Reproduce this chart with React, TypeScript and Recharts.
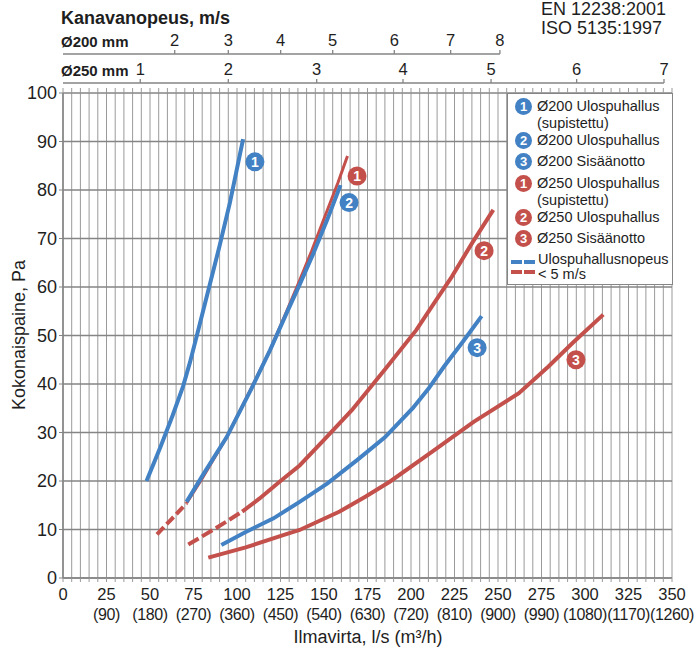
import React from 'react';
import { LineChart, Line, XAxis, YAxis, CartesianGrid, ReferenceDot } from 'recharts';

const BLUE = '#4281c3';
const RED = '#c4504c';
const GRID = '#9a9a9a';
const AXIS = '#858585';
const TEXT = '#1e1e1e';
const FONT = '"Liberation Sans", Arial, sans-serif';

// ilmavirta l/s -> kokonaispaine Pa, luettu kuvasta
const blue1: [number, number][] = [[48, 20], [56, 27], [63, 33.5], [69, 39.5], [73, 44.5], [78, 51.5], [84, 60], [90, 68.5], [96, 77.5], [103.5, 90.5]];
const blue2: [number, number][] = [[71, 15.7], [80, 21], [94, 29], [108.4, 39.1], [119, 47], [128.5, 54.6], [136, 60.5], [144, 67], [152, 74], [159.5, 81]];
const blue3: [number, number][] = [[91, 6.8], [105, 9.5], [121, 12.3], [136, 15.7], [152, 19.5], [169, 24.3], [185, 29], [201, 35], [210, 39], [219, 43.6], [230, 48.8], [240.6, 54]];
const red1Dash: [number, number][] = [[54, 9], [62, 12], [71, 15.4]];
const red1: [number, number][] = [[71, 15.4], [80, 20.5], [94, 29], [108, 39], [119, 47], [128, 54.5], [135, 60.5], [143, 67.5], [151, 75], [158, 81.5], [163.5, 87]];
const red2Dash: [number, number][] = [[72, 6.9], [88, 10.3], [103, 13.7]];
const red2: [number, number][] = [[103, 13.7], [113, 16.4], [125, 20], [136, 23.2], [150, 28.5], [166, 34.6], [185, 43], [203, 51.1], [213, 56.5], [223.4, 62.1], [235, 69], [247.3, 75.9]];
const red3: [number, number][] = [[83.5, 4.2], [105, 6.3], [127, 8.9], [136, 9.9], [159, 13.7], [174, 16.8], [188, 19.9], [212, 26], [236, 32.2], [262, 38.1], [279, 43.6], [293, 48.5], [310.5, 54.3]];

// numeromerkit käyrien päissä
const badges = [
  { n: 1, color: BLUE, x: 110.3, y: 85.8 },
  { n: 1, color: RED, x: 169, y: 82.9 },
  { n: 2, color: BLUE, x: 164.4, y: 77.4 },
  { n: 2, color: RED, x: 242, y: 67.5 },
  { n: 3, color: BLUE, x: 238, y: 47.5 },
  { n: 3, color: RED, x: 294.8, y: 45 },
];

const flowTicks = [0, 25, 50, 75, 100, 125, 150, 175, 200, 225, 250, 275, 300, 325, 350];
const m3hLabels = ['', '(90)', '(180)', '(270)', '(360)', '(450)', '(540)', '(630)', '(720)', '(810)', '(900)', '(990)', '(1080)', '(1170)', '(1260)'];
const gridTicks = Array.from({ length: 71 }, (_, i) => i * 5);
const paTicks = [0, 10, 20, 30, 40, 50, 60, 70, 80, 90, 100];

// kanavanopeus-asteikot (m/s) ja niitä vastaava ilmavirta
const d200Speeds = [2, 3, 4, 5, 6, 7, 8];
const d200Flows = [64.2, 95, 125.1, 155, 190.4, 222.8, 251.1];
const d250Speeds = [1, 2, 3, 4, 5, 6, 7];
const d250Flows = [44.4, 95, 145.8, 195.4, 246, 295.2, 345.4];

const legendItems = [
  { n: 1, color: BLUE, lines: ['Ø200 Ulospuhallus', '(supistettu)'] },
  { n: 2, color: BLUE, lines: ['Ø200 Ulospuhallus'] },
  { n: 3, color: BLUE, lines: ['Ø200 Sisäänotto'] },
  { n: 1, color: RED, lines: ['Ø250 Ulospuhallus', '(supistettu)'] },
  { n: 2, color: RED, lines: ['Ø250 Ulospuhallus'] },
  { n: 3, color: RED, lines: ['Ø250 Sisäänotto'] },
];
const legendTops = [4, 38, 59, 81, 115, 136];

const W = 698;
const H = 655;
const MARGIN = { top: 25, right: 26, bottom: 0, left: 0 };
const Y_W = 63;
const PX_PER_FLOW = (W - MARGIN.right - MARGIN.left - Y_W) / 350;
const TOP_TICK = 4;
const TOP_MARGIN = 2;

const pts = (a: [number, number][]) => a.map(([x, y]) => ({ x, y }));

const FlowTick = (props: any) => {
  const { x, y, payload } = props;
  const i = flowTicks.indexOf(payload.value);
  if (i < 0) return <g />;
  return (
    <g fontFamily={FONT} fill={TEXT}>
      <text x={x} y={y + 16} textAnchor="middle" fontSize={16.5}>{payload.value}</text>
      {m3hLabels[i] && (
        <text x={x} y={y + 35.5} textAnchor="middle" fontSize={16} letterSpacing={-0.4}>{m3hLabels[i]}</text>
      )}
    </g>
  );
};

const speedTick = (speeds: number[], flows: number[], lift: number) => (props: any) => {
  const { x, y, payload } = props;
  const i = flows.indexOf(payload.value);
  const lineY = y + TOP_TICK + TOP_MARGIN;
  return (
    <g>
      <text x={x} y={lineY - lift} textAnchor="middle" fontFamily={FONT} fontSize={16.5} fill={TEXT}>
        {speeds[i]}
      </text>
      {i === flows.length - 1 && (
        <line x1={x - payload.value * PX_PER_FLOW} x2={x} y1={lineY} y2={lineY} stroke={AXIS} strokeWidth={1.6} />
      )}
    </g>
  );
};

const EmptyTick = () => <g />;

const Badge = ({ cx, cy, n, color }: any) => (
  <g>
    <circle cx={cx} cy={cy} r={9.5} fill={color} />
    <text x={cx} y={cy + 5} textAnchor="middle" fontFamily={FONT} fontWeight="bold" fontSize={14} fill="#fff">{n}</text>
  </g>
);

const HtmlBadge = ({ n, color }: { n: number; color: string }) => (
  <div
    style={{
      width: 17,
      height: 17,
      borderRadius: '50%',
      background: color,
      color: '#fff',
      fontWeight: 'bold',
      fontSize: 13,
      lineHeight: '17px',
      textAlign: 'center',
    }}
  >
    {n}
  </div>
);

const abs = (style: React.CSSProperties): React.CSSProperties => ({
  position: 'absolute',
  fontFamily: FONT,
  color: TEXT,
  whiteSpace: 'nowrap',
  ...style,
});

export default function App() {
  return (
    <div style={{ position: 'absolute', left: 0, top: 0, width: W, height: H, background: '#fff' }}>
      <LineChart width={W} height={H} margin={MARGIN}>
        <CartesianGrid vertical horizontal={false} stroke={GRID} strokeWidth={1} />
        <CartesianGrid vertical={false} stroke={AXIS} strokeWidth={1.3} />
        <XAxis
          dataKey="x"
          type="number"
          domain={[0, 350]}
          allowDataOverflow
          ticks={gridTicks}
          interval={0}
          height={77}
          tickSize={4}
          tick={<FlowTick />}
          axisLine={{ stroke: AXIS, strokeWidth: 1.6 }}
          tickLine={{ stroke: GRID }}
        />
        {/* yläasteikot: id:t aakkosjärjestyksessä lähimmästä uloimpaan */}
        <XAxis
          xAxisId="top1grid"
          orientation="top"
          dataKey="x"
          type="number"
          domain={[0, 350]}
          allowDataOverflow
          ticks={gridTicks}
          interval={0}
          height={10}
          tickSize={5}
          tick={<EmptyTick />}
          axisLine={false}
          tickLine={{ stroke: GRID }}
        />
        <XAxis
          xAxisId="top2d250"
          orientation="top"
          dataKey="x"
          type="number"
          domain={[0, 350]}
          allowDataOverflow
          ticks={d250Flows}
          interval={0}
          height={29}
          tickSize={TOP_TICK}
          tickMargin={TOP_MARGIN}
          tick={speedTick(d250Speeds, d250Flows, 8.3)}
          axisLine={false}
          tickLine={{ stroke: AXIS, strokeWidth: 1.3 }}
        />
        <XAxis
          xAxisId="top3d200"
          orientation="top"
          dataKey="x"
          type="number"
          domain={[0, 350]}
          allowDataOverflow
          ticks={d200Flows}
          interval={0}
          height={29}
          tickSize={TOP_TICK}
          tickMargin={TOP_MARGIN}
          tick={speedTick(d200Speeds, d200Flows, 7.6)}
          axisLine={false}
          tickLine={{ stroke: AXIS, strokeWidth: 1.3 }}
        />
        <YAxis
          type="number"
          domain={[0, 100]}
          allowDataOverflow
          ticks={paTicks}
          interval={0}
          width={Y_W}
          tickSize={4}
          tick={{ fontFamily: FONT, fontSize: 18, fill: TEXT }}
          axisLine={{ stroke: AXIS, strokeWidth: 1.6 }}
          tickLine={{ stroke: AXIS }}
        />
        <Line data={pts(blue1)} dataKey="y" type="linear" stroke={BLUE} strokeWidth={4} dot={false} isAnimationActive={false} />
        <Line data={pts(red1Dash)} dataKey="y" type="linear" stroke={RED} strokeWidth={4} strokeDasharray="10 4" dot={false} isAnimationActive={false} />
        <Line data={pts(red1)} dataKey="y" type="linear" stroke={RED} strokeWidth={3} dot={false} isAnimationActive={false} />
        <Line data={pts(blue2)} dataKey="y" type="linear" stroke={BLUE} strokeWidth={4} dot={false} isAnimationActive={false} />
        <Line data={pts(red2Dash)} dataKey="y" type="linear" stroke={RED} strokeWidth={4} strokeDasharray="12 4" dot={false} isAnimationActive={false} />
        <Line data={pts(red2)} dataKey="y" type="linear" stroke={RED} strokeWidth={4} dot={false} isAnimationActive={false} />
        <Line data={pts(blue3)} dataKey="y" type="linear" stroke={BLUE} strokeWidth={4} dot={false} isAnimationActive={false} />
        <Line data={pts(red3)} dataKey="y" type="linear" stroke={RED} strokeWidth={4} dot={false} isAnimationActive={false} />
        {badges.map((b, i) => (
          <ReferenceDot
            key={`badge-${i}`}
            x={b.x}
            y={b.y}
            r={9.5}
            shape={(p: any) => <Badge cx={p.cx} cy={p.cy} n={b.n} color={b.color} />}
          />
        ))}
      </LineChart>

      {/* otsikot */}
      <div style={abs({ left: 61, top: 8, fontSize: 18, fontWeight: 'bold' })}>Kanavanopeus, m/s</div>
      <div style={abs({ left: 61, top: 33, fontSize: 15, fontWeight: 'bold' })}>Ø200 mm</div>
      <div style={abs({ left: 61, top: 62, fontSize: 15, fontWeight: 'bold' })}>Ø250 mm</div>
      <div style={abs({ left: 541, top: 0, fontSize: 18, lineHeight: '19px' })}>
        EN 12238:2001
        <br />
        ISO 5135:1997
      </div>
      <div
        style={abs({
          left: 19,
          top: 335,
          fontSize: 18,
          transform: 'translate(-50%, -50%) rotate(-90deg)',
        })}
      >
        Kokonaispaine, Pa
      </div>
      <div style={abs({ left: 368, top: 637, fontSize: 18, transform: 'translate(-50%, -50%)' })}>
        Ilmavirta, l/s (m³/h)
      </div>

      {/* selite */}
      <div
        style={abs({
          left: 507,
          top: 93,
          width: 164,
          height: 190,
          background: '#fff',
          border: `1.5px solid ${AXIS}`,
          fontSize: 14.5,
        })}
      >
        {legendItems.map((item, i) => (
          <div key={`leg-${i}`} style={{ position: 'absolute', left: 7, top: legendTops[i], display: 'flex' }}>
            <HtmlBadge n={item.n} color={item.color} />
            <div style={{ marginLeft: 5, lineHeight: '16.5px' }}>
              {item.lines.map((l, j) => (
                <div key={j}>{l}</div>
              ))}
            </div>
          </div>
        ))}
        <div style={{ position: 'absolute', left: 3, top: 158, display: 'flex' }}>
          <svg width={24} height={26}>
            <line x1={0} x2={24} y1={10} y2={10} stroke={BLUE} strokeWidth={4} strokeDasharray="11 2" />
            <line x1={0} x2={24} y1={20} y2={20} stroke={RED} strokeWidth={4} strokeDasharray="11 2" />
          </svg>
          <div style={{ marginLeft: 3, lineHeight: '15px' }}>
            Ulospuhallusnopeus
            <br />
            {'< 5 m/s'}
          </div>
        </div>
      </div>
    </div>
  );
}
